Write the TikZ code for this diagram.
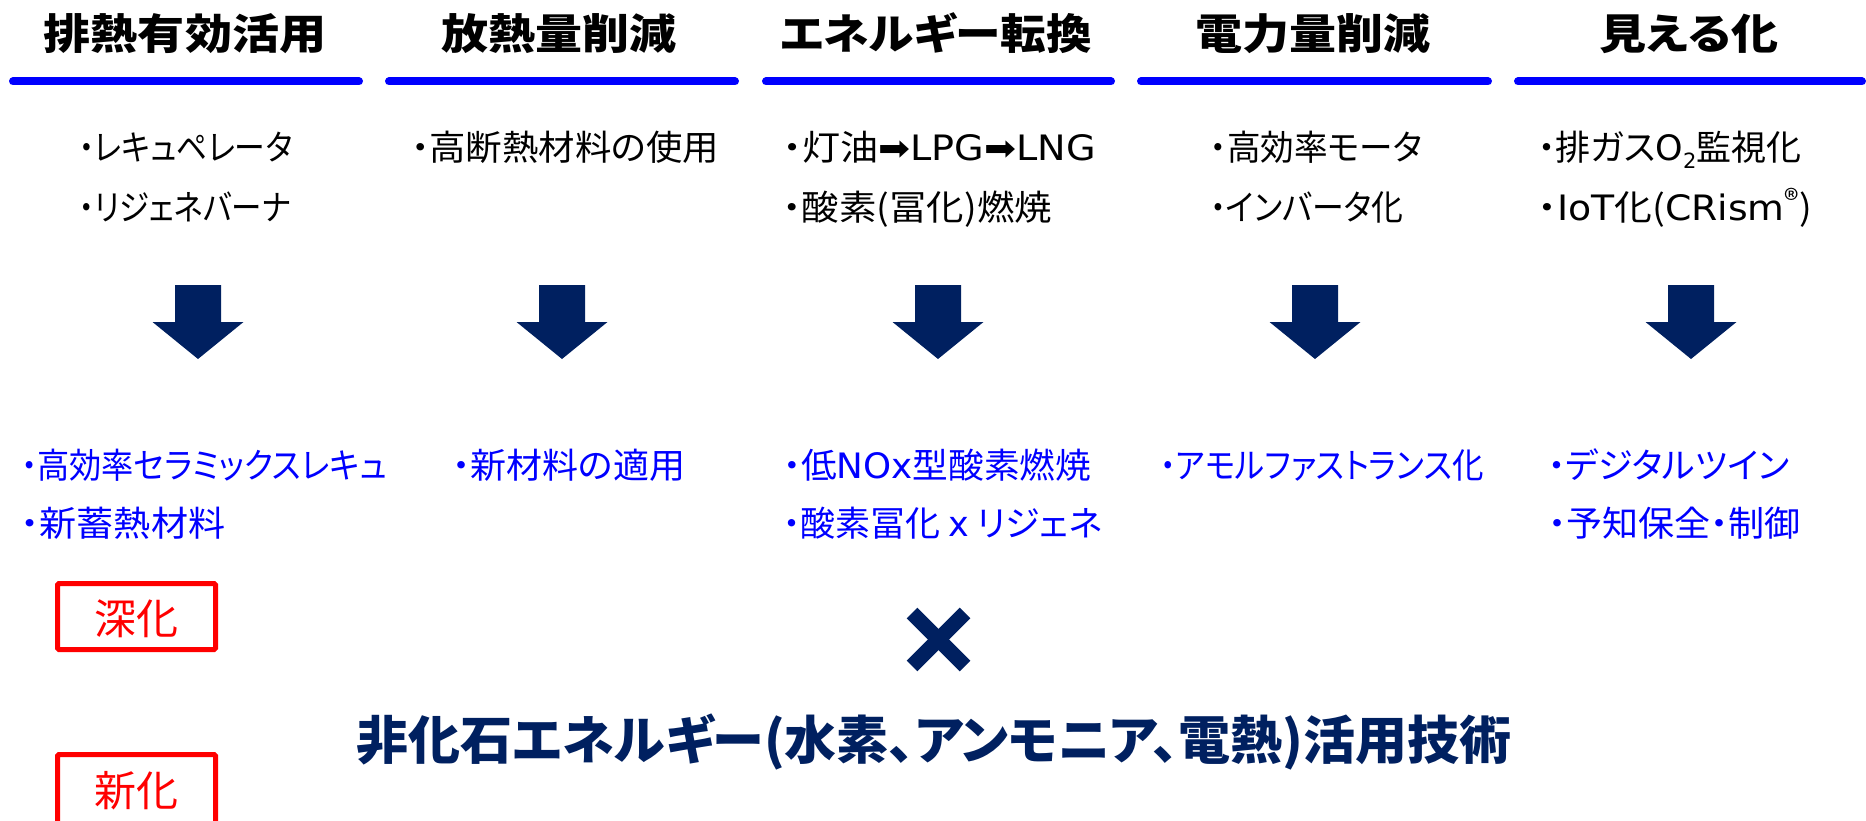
\documentclass[tikz,border=0pt]{standalone}
\usepackage{fontspec}
\setmainfont{Noto Sans CJK JP}[RawFeature={+palt}]
\newfontfamily\hdfont{Noto Sans CJK JP}[FakeStretch=1.12,RawFeature={+palt}]
\newfontfamily\lat{DejaVu Sans}
\definecolor{navy}{HTML}{002060}
\definecolor{pureblue}{HTML}{0000FF}
\definecolor{pured}{HTML}{FF0000}
\newcommand{\subtwo}{\raisebox{-0.22em}{\lat\fontsize{21}{21}\selectfont 2}}
\newcommand{\hsq}[2]{\scalebox{#1}[1]{#2}}
\begin{document}
\begin{tikzpicture}[x=1pt,y=-1pt,
  hdr/.style={anchor=base,inner sep=0pt,font=\hdfont\bfseries\fontsize{42}{42}\selectfont},
  rule/.style={draw=pureblue,line width=8pt,line cap=round},
  bodyk/.style={anchor=base west,inner sep=0pt,font=\fontsize{35}{35}\selectfont},
  bodyb/.style={anchor=base west,inner sep=0pt,text=pureblue,font=\fontsize{35}{35}\selectfont},
  redbox/.style={draw=pured,line width=5pt,rounded corners=1.5pt},
  redtxt/.style={anchor=base,inner sep=0pt,text=pured,font=\fontsize{42}{42}\selectfont},
  bottomtxt/.style={anchor=base,inner sep=0pt,text=navy,font=\bfseries\fontsize{52}{52}\selectfont},
  downarrow/.style={fill=navy},
  crossbar/.style={draw=navy,line width=15pt}
]
\useasboundingbox (0,0) rectangle (1866,821);
\clip (0,0) rectangle (1866,821);

% headers
\node[hdr] (h1) at (185,49.5) {排熱有効活用};
\node[hdr] (h2) at (559,49.5) {放熱量削減};
\node[hdr] (h3) at (936,49.5) {\hsq{0.97}{エネルギー転換}};
\node[hdr] (h4) at (1313,49.5) {電力量削減};
\node[hdr] (h5) at (1689,49.5) {見える化};

% blue rules
\draw[rule] (13,81.5) -- (359,81.5);
\draw[rule] (389,81.5) -- (735,81.5);
\draw[rule] (766,81.5) -- (1111,81.5);
\draw[rule] (1141,81.5) -- (1488,81.5);
\draw[rule] (1518,81.5) -- (1862,81.5);

% black bullet texts
\node[bodyk] (a1) at (79,161) {\hsq{0.88}{・レキュペレータ}};
\node[bodyk] (a2) at (79,221) {\hsq{0.87}{・リジェネバーナ}};
\node[bodyk] (b1) at (411,161) {\hsq{1.04}{・高断熱材料の使用}};
\node[bodyk] (c1) at (783,161) {\hsq{1.09}{・灯油{\lat\fontsize{35}{35}\selectfont ➡}{\lat LPG}{\lat\fontsize{35}{35}\selectfont ➡}{\lat LNG}}};
\node[bodyk] (c2) at (783,221) {\hsq{1.07}{・酸素(冨化)燃焼}};
\node[bodyk] (d1) at (1210,161) {\hsq{0.96}{・高効率モータ}};
\node[bodyk] (d2) at (1210,221) {\hsq{0.91}{・インバータ化}};
\node[bodyk] (e1) at (1538,161) {・排ガス{\lat O}\subtwo 監視化};
\node[bodyk] (e2) at (1538,221) {\hsq{1.08}{・{\lat IoT}化({\lat CRism}\raisebox{0.3em}{\fontsize{28}{28}\selectfont ®})}};

% down arrows
\foreach \cx in {198,562,938,1315,1691}{
  \fill[downarrow] (\cx-23,285) -- (\cx+23,285) -- (\cx+23,322) -- (\cx+45.5,322)
    -- (\cx,359) -- (\cx-45.5,322) -- (\cx-23,322) -- cycle;
}

% blue bullet texts
\node[bodyb] (p1) at (21,478) {\hsq{0.92}{・高効率セラミックスレキュ}};
\node[bodyb] (p2) at (21,536) {\hsq{1.06}{・新蓄熱材料}};
\node[bodyb] (q1) at (452,478) {\hsq{1.03}{・新材料の適用}};
\node[bodyb] (r1) at (783,478) {\hsq{1.02}{・低{\lat NOx}型酸素燃焼}};
\node[bodyb] (r2) at (783,536) {・酸素冨化 {\lat x} リジェネ};
\node[bodyb] (s1) at (1160,478) {\hsq{0.9}{・アモルファストランス化}};
\node[bodyb] (t1) at (1548,478) {・デジタルツイン};
\node[bodyb] (t2) at (1548,536) {\hsq{1.03}{・予知保全・制御}};

% red boxes
\draw[redbox] (57.5,583.5) rectangle (215.5,649.5);
\node[redtxt] (k1) at (136.5,634) {深化};
\draw[redbox] (57.5,754.5) rectangle (215.5,830);
\node[redtxt] (k2) at (136.5,806) {新化};

% cross mark
\coordinate (xa) at (912,613);
\coordinate (xb) at (965,666);
\coordinate (xc) at (965,613);
\coordinate (xd) at (912,666);
\draw[crossbar] (xa) -- (xb);
\draw[crossbar] (xc) -- (xd);

% bottom text
\node[bottomtxt] (bt) at (934,759) {非化石エネルギー(水素、アンモニア、電熱)活用技術};
\end{tikzpicture}
\end{document}
